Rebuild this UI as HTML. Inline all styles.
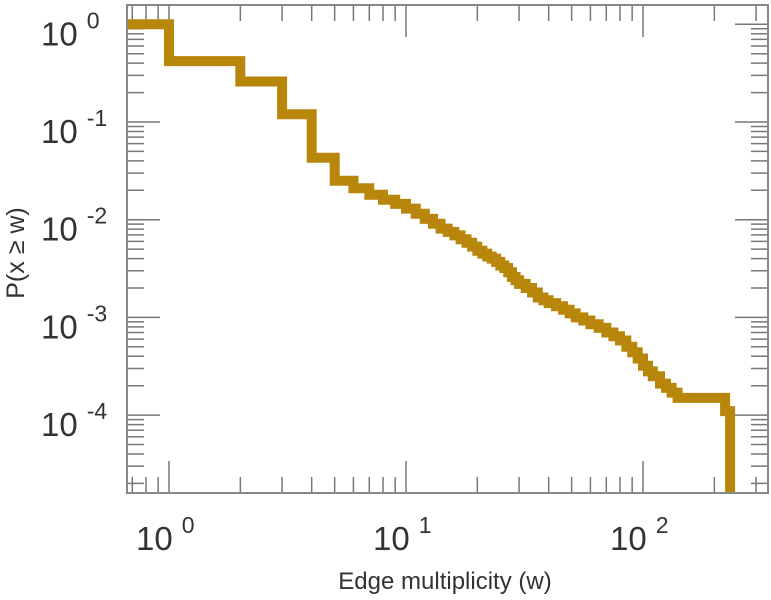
<!DOCTYPE html>
<html><head><meta charset="utf-8"><style>
html,body{margin:0;padding:0;background:#fff;}
svg{display:block;font-family:"Liberation Sans",Arial,sans-serif;}
</style></head><body>
<svg id="chart" width="771" height="600" viewBox="0 0 771 600">
<g id="ticks"></g>
<g id="labels"></g>
<path id="series" fill="none" stroke="#b8860b" stroke-width="10" stroke-linejoin="miter" stroke-linecap="butt"></path>
<rect x="127" y="5" width="641" height="488" fill="none" stroke="#888" stroke-width="2"></rect>
<text x="445" y="589" font-size="24" fill="#333" text-anchor="middle">Edge multiplicity (w)</text>
<text transform="translate(24,253) rotate(-90)" font-size="25" fill="#333" text-anchor="middle">P(x ≥ w)</text>
</svg>
<script>
const wValues = [0.6,1,2,3,4,5,6,7,8,9,10,11,12,13,14,15,16,17,18,19,20,21,22,23,24,25,26,27,28,29,30,32,34,36,38,40,43,46,49,52,56,60,65,70,75,80,85,90,95,100,105,110,118,125,132,140,222,233];
const pValues = [1,0.42,0.26,0.12,0.043,0.025,0.021,0.018,0.016,0.0145,0.013,0.0115,0.0102,0.0091,0.0081,0.0075,0.0069,0.0063,0.0058,0.0053,0.0048,0.0045,0.0042,0.004,0.0037,0.0034,0.0032,0.0029,0.0026,0.0024,0.0022,0.002,0.0018,0.0016,0.0015,0.0014,0.0013,0.0012,0.0011,0.001,0.00093,0.00085,0.00078,0.0007,0.00064,0.00058,0.0005,0.00044,0.00038,0.00032,0.00028,0.00025,0.00021,0.00019,0.00017,0.00015,0.00011,0.00001];
const xDecades = [0,1,2];
const yDecades = [0,-1,-2,-3,-4];
const xTickLabels = ["0","1","2"];
const yTickLabels = ["0","-1","-2","-3","-4"];

const L=127,R=768,T=5,B=493;
function xs(w){return 169+237*Math.log10(w);}
function ys(p){return 24.3-97.7*Math.log10(p);}
const ns="http://www.w3.org/2000/svg";
const tg=document.getElementById('ticks'), lg=document.getElementById('labels');
function line(x1,y1,x2,y2,name){
  const l=document.createElementNS(ns,'line');
  l.setAttribute('x1',x1);l.setAttribute('y1',y1);l.setAttribute('x2',x2);l.setAttribute('y2',y2);
  l.setAttribute('stroke','#777');l.setAttribute('stroke-width','1.5');
  
  
  tg.appendChild(l);
}
for(let d=-1; d<=2; d++){
  for(let m=1;m<=9;m++){
    const x=xs(m*Math.pow(10,d));
    if(x<L||x>R) continue;
    const len = m===1?32:16;
    line(x,B,x,B-len,'x-tick');
    line(x,T,x,T+len,'x-tick-top');
  }
}
for(let d=-5; d<=0; d++){
  for(let m=1;m<=9;m++){
    const y=ys(m*Math.pow(10,d));
    if(y<T||y>B) continue;
    const len = m===1?33:17;
    line(L,y,L+len,y,'y-tick');
    line(R,y,R-len,y,'y-tick-right');
  }
}
function powLabel(x,y,exp,name){
  const t=document.createElementNS(ns,'text');
  t.setAttribute('x',x);t.setAttribute('y',y);t.setAttribute('fill','#333');t.setAttribute('font-size','33');
  
  
  const a=document.createElementNS(ns,'tspan');a.textContent='10';
  const b=document.createElementNS(ns,'tspan');b.textContent=exp;b.setAttribute('font-size','23');b.setAttribute('dx','9');b.setAttribute('dy','-17');
  t.appendChild(a);t.appendChild(b);lg.appendChild(t);
}
xDecades.forEach((d,i)=>{ powLabel(xs(Math.pow(10,d))-33,550,xTickLabels[i],'x-tick-label'); });
yDecades.forEach((d,i)=>{ powLabel(41,ys(Math.pow(10,d))+21,yTickLabels[i],'y-tick-label'); });
let dstr='M'+L+','+ys(pValues[0]);
for(let i=1;i<wValues.length;i++){
  const x=xs(wValues[i]);
  dstr+=' H'+x.toFixed(1);
  let y=ys(pValues[i]); if(y>B) y=B;
  dstr+=' V'+y.toFixed(1);
}
document.getElementById('series').setAttribute('d',dstr);
</script>
</body></html>
